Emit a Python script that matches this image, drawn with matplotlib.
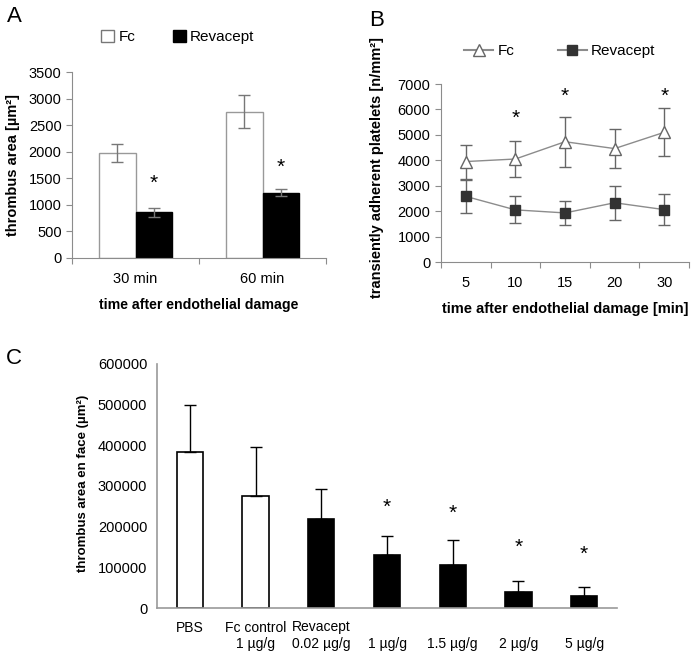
import matplotlib
matplotlib.use("Agg")
import matplotlib.pyplot as plt
from matplotlib.lines import Line2D
from matplotlib.patches import Patch

plt.rcParams['font.family'] = ['Liberation Sans', 'DejaVu Sans']
plt.rcParams['font.size'] = 10.5

# panel A
a_cats = ['30 min', '60 min']
a_fc = [1980, 2750]
a_fc_err = [165, 310]
a_rev = [860, 1230]
a_rev_err = [80, 60]
a_star = [1400, 1700]

# panel B
b_cats = ['5', '10', '15', '20', '30']
b_fc = [3950, 4050, 4730, 4460, 5100]
b_fc_err = [670, 700, 980, 760, 940]
b_rev = [2580, 2050, 1930, 2330, 2060]
b_rev_err = [650, 530, 480, 670, 620]
b_star_idx = [1, 2, 4]
b_star_y = [5650, 6500, 6500]

# panel C
c_cats = ['PBS\n', 'Fc control\n1 µg/g', 'Revacept\n0.02 µg/g', '\n1 µg/g',
          '\n1.5 µg/g', '\n2 µg/g', '\n5 µg/g']
c_vals = [384000, 275000, 218000, 130000, 105000, 38500, 30000]
c_err = [114000, 120000, 74000, 48000, 63000, 28500, 22000]
c_white = [True, True, False, False, False, False, False]
c_star_idx = [3, 4, 5, 6]
c_star_y = [248000, 232000, 150000, 131000]

W, H = 693, 652
fig = plt.figure(figsize=(W / 100, H / 100), dpi=100)


def box(l, t, r, b):
    return [l / W, 1 - b / H, (r - l) / W, (b - t) / H]


grey = '#8c8c8c'

# ---------- A ----------
ax = fig.add_axes(box(72, 72, 326, 258))
x = list(range(len(a_cats)))
w = 0.29
ax.bar([i - w / 2 for i in x], a_fc, w, color='white', edgecolor='#999999', linewidth=1)
ax.errorbar([i - w / 2 for i in x], a_fc, yerr=a_fc_err, fmt='none', ecolor='#777777',
            elinewidth=1, capsize=4)
ax.bar([i + w / 2 for i in x], a_rev, w, color='black', edgecolor='black', linewidth=1)
ax.errorbar([i + w / 2 for i in x], a_rev, yerr=a_rev_err, fmt='none', ecolor='#777777',
            elinewidth=1, capsize=4)
for i, s in zip(x, a_star):
    ax.text(i + w / 2, s, '*', ha='center', va='center', fontsize=15)
ax.set_xlim(-0.5, 1.5)
ax.set_ylim(0, 3500)
ax.set_yticks(range(0, 3501, 500))
ax.set_xticks([-0.5, 0.5, 1.5])
ax.set_xticklabels([])
ax.set_xticks(x, minor=True)
ax.set_xticklabels(a_cats, minor=True)
ax.tick_params(axis='x', which='minor', length=0, pad=10)
ax.tick_params(axis='both', which='major', length=4, color=grey)
ax.set_ylabel('thrombus area [µm²]', fontweight='bold', labelpad=6)
ax.set_xlabel('time after endothelial damage', fontweight='bold', labelpad=9, fontsize=10.2)
for sp in ['top', 'right']:
    ax.spines[sp].set_visible(False)
for sp in ['left', 'bottom']:
    ax.spines[sp].set_color(grey)
fig.legend(handles=[Patch(facecolor='white', edgecolor='#777777', label='Fc'),
                    Patch(facecolor='black', edgecolor='black', label='Revacept')],
           loc='center', bbox_to_anchor=(178 / W, 1 - 37 / H), ncol=2, frameon=False,
           handlelength=0.8, handleheight=0.8, handletextpad=0.3, columnspacing=2.5,
           fontsize=11)
fig.text(7 / W, 1 - 16 / H, 'A', fontsize=16, va='center')

# ---------- B ----------
ax = fig.add_axes(box(441, 84, 689, 262))
x = list(range(len(b_cats)))
ax.errorbar(x, b_fc, yerr=b_fc_err, color=grey, ecolor='#666666', elinewidth=1, capsize=4,
            linewidth=1, marker='^', markersize=8, markerfacecolor='white',
            markeredgecolor='#666666', zorder=3)
ax.errorbar(x, b_rev, yerr=b_rev_err, color=grey, ecolor='#666666', elinewidth=1, capsize=4,
            linewidth=1, marker='s', markersize=7, markerfacecolor='#333333',
            markeredgecolor='#333333', zorder=3)
for i, s in zip(b_star_idx, b_star_y):
    ax.text(i, s, '*', ha='center', va='center', fontsize=15)
ax.set_xlim(-0.5, 4.5)
ax.set_ylim(0, 7000)
ax.set_yticks(range(0, 7001, 1000))
ax.set_xticks([i - 0.5 for i in range(6)])
ax.set_xticklabels([])
ax.set_xticks(x, minor=True)
ax.set_xticklabels(b_cats, minor=True)
ax.tick_params(axis='x', which='minor', length=0, pad=10)
ax.tick_params(axis='both', which='major', length=4, color=grey)
ax.set_ylabel('transiently adherent platelets [n/mm²]', fontweight='bold', fontsize=10.5)
ax.yaxis.set_label_coords(-0.23, 0.53)
ax.set_xlabel('time after endothelial damage [min]', fontweight='bold', labelpad=9)
for sp in ['top', 'right']:
    ax.spines[sp].set_visible(False)
for sp in ['left', 'bottom']:
    ax.spines[sp].set_color(grey)
fig.legend(handles=[Line2D([], [], color=grey, marker='^', markersize=8,
                           markerfacecolor='white', markeredgecolor='#666666', label='Fc'),
                    Line2D([], [], color=grey, marker='s', markersize=7,
                           markerfacecolor='#333333', markeredgecolor='#333333',
                           label='Revacept')],
           loc='center', bbox_to_anchor=(560 / W, 1 - 51 / H), ncol=2, frameon=False,
           handlelength=1.9, handletextpad=0.3, columnspacing=2.8, fontsize=11)
fig.text(369 / W, 1 - 20 / H, 'B', fontsize=16, va='center')

# ---------- C ----------
ax = fig.add_axes(box(157, 364, 617, 608))
x = list(range(len(c_cats)))
for i in x:
    fc = 'white' if c_white[i] else 'black'
    ax.bar(i, c_vals[i], 0.4, color=fc, edgecolor='black', linewidth=1.2)
ax.errorbar(x, c_vals, yerr=[[0] * len(x), c_err], fmt='none', ecolor='black',
            elinewidth=1, capsize=4)
for i, s in zip(c_star_idx, c_star_y):
    ax.text(i, s, '*', ha='center', va='center', fontsize=15)
ax.set_xlim(-0.5, 6.5)
ax.set_ylim(0, 600000)
ax.set_yticks(range(0, 600001, 100000))
ax.set_xticks(x)
ax.set_xticklabels(c_cats, fontsize=10, linespacing=1.2)
for lab in ax.get_yticklabels():
    lab.set_fontsize(10.5)
ax.tick_params(axis='x', length=0, pad=9)
ax.tick_params(axis='y', length=0, pad=7)
ax.set_ylabel('thrombus area en face (µm²)', fontweight='bold', fontsize=9.5)
ax.yaxis.set_label_coords(-0.148, 0.51)
for sp in ['top', 'right']:
    ax.spines[sp].set_visible(False)
for sp in ['left', 'bottom']:
    ax.spines[sp].set_color('#999999')
    ax.spines[sp].set_linewidth(1.2)
fig.text(6 / W, 1 - 358 / H, 'C', fontsize=16, va='center')

fig.savefig('out.png', dpi=100)
